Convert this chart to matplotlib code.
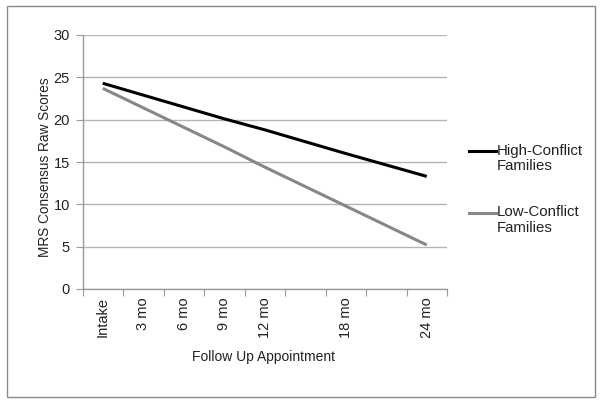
import numpy as np
import matplotlib
matplotlib.use("Agg")
import matplotlib.pyplot as plt
from matplotlib.lines import Line2D
from matplotlib.patches import Rectangle

categories = ["Intake", "3 mo", "6 mo", "9 mo", "12 mo", "", "18 mo", "", "24 mo"]
high_conflict = [24.3, 22.9, 21.5, 20.1, 18.8, np.nan, 16.0, np.nan, 13.3]
low_conflict = [23.7, 21.4, 19.1, 16.8, 14.4, np.nan, 9.8, np.nan, 5.2]
series_names = ["High-Conflict\nFamilies", "Low-Conflict\nFamilies"]
y_ticks = [0, 5, 10, 15, 20, 25, 30]

plt.rcParams['font.family'] = ['Liberation Sans', 'DejaVu Sans']

W, H = 601, 403
fig = plt.figure(figsize=(W / 100, H / 100), dpi=100)
fig.patch.set_facecolor("white")

# outer border
fig.add_artist(Rectangle((7 / W, 1 - 397 / H), (595 - 7) / W, (397 - 6) / H,
                         transform=fig.transFigure, fill=False,
                         edgecolor="#8a8a8a", linewidth=1.0))

left, right, top, bottom = 82.5, 447, 35, 289
ax = fig.add_axes([left / W, 1 - bottom / H, (right - left) / W, (bottom - top) / H])

n = len(categories)
x = np.arange(n)
colors = ["#000000", "#878787"]
for vals, c in zip([high_conflict, low_conflict], colors):
    v = np.array(vals, dtype=float)
    m = ~np.isnan(v)
    ax.plot(x[m], v[m], color=c, linewidth=2.2, solid_capstyle="butt", zorder=3)

ax.set_xlim(-0.5, n - 0.5)
ax.set_ylim(0, 30)
ax.set_yticks(y_ticks)
ax.set_yticklabels([str(t) for t in y_ticks], fontsize=10.5, color="#222222")
ax.yaxis.grid(True, color="#b4b4b4", linewidth=1.0)
ax.set_axisbelow(True)

# category boundary ticks
ax.set_xticks(np.arange(n + 1) - 0.5)
ax.set_xticklabels([])
ax.set_xticks(x, minor=True)
ax.set_xticklabels(categories, minor=True, rotation=90, fontsize=10.5, color="#222222")
ax.tick_params(axis="x", which="major", length=5, color="#9a9a9a", direction="out")
ax.tick_params(axis="x", which="minor", length=0, pad=6)
ax.tick_params(axis="y", length=5, color="#9a9a9a", direction="out", pad=4)

for s in ["top", "right"]:
    ax.spines[s].set_visible(False)
for s in ["left", "bottom"]:
    ax.spines[s].set_color("#9a9a9a")
    ax.spines[s].set_linewidth(1.0)

fig.text(263 / W, 1 - 357 / H, "Follow Up Appointment", ha="center", va="center",
         fontsize=10, color="#222222")
fig.text(45 / W, 1 - 167 / H, "MRS Consensus Raw Scores", ha="center", va="center",
         rotation=90, fontsize=9.8, color="#222222")

# legend
for name, c, yy in zip(series_names, colors, [151, 213]):
    fig.add_artist(Line2D([469 / W, 496 / W], [1 - yy / H, 1 - yy / H],
                          transform=fig.transFigure, color=c, linewidth=2.2))
    fig.text(497 / W, 1 - (yy - 7.5) / H, name, ha="left", va="top", fontsize=10.8,
             color="#222222", linespacing=1.1)

fig.savefig("out.png", dpi=100)
